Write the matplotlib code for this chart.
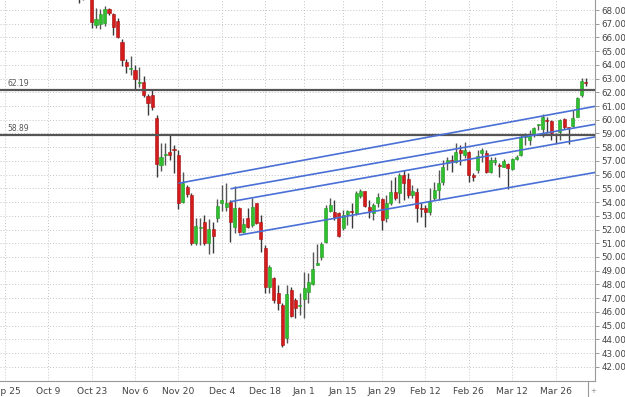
import pandas as pd
import matplotlib
matplotlib.use('Agg')
import matplotlib.pyplot as plt
from matplotlib.lines import Line2D

# trading calendar (futures style, a few holidays removed)
holidays = ['2018-12-25', '2019-01-01', '2019-01-21']
first_day = '2018-10-18'

opens = [69.6, 68.9, 69.2, 69.2, 66.91, 66.98, 67.07, 68.07, 67.71, 67.22,
         65.69, 64.23, 63.72, 63.63, 62.66, 62.77, 61.75, 61.8, 60.1, 56.7,
         57.45, 57.67, 57.82, 57.43, 53.99, 55.12, 54.52, 51.04, 52.1, 52.57,
         51.04, 52.02, 52.82, 53.91, 53.66, 54.03, 52.2, 53.55, 51.84, 52.82,
         52.33, 53.91, 52.57, 50.63, 47.79, 48.49, 47.35, 46.5, 44.07, 47.59,
         46.86, 46.45, 46.91, 47.47, 48.03, 49.41, 49.98, 51.11, 53.37, 53.3,
         53.18, 52.09, 53.13, 53.3, 53.18, 54.47, 54.81, 53.66, 53.23, 53.91,
         54.22, 52.82, 53.91, 54.76, 54.64, 55.97, 55.66, 54.55, 54.76, 53.6,
         53.55, 53.3, 54.28, 54.88, 55.49, 56.83, 57.07, 56.94, 57.8, 57.43,
         57.67, 55.97, 56.34, 57.56, 57.6, 56.21, 56.94, 56.66, 56.58, 56.78,
         56.39, 57.12, 57.43, 58.72, 58.52, 58.89, 59.6, 59.3, 60.0, 59.93,
         58.93, 59.13, 60.03, 59.4, 59.55, 60.22, 61.8, 62.7]
highs = [70.0, 69.5, 69.8, 69.4, 68.12, 68.1, 68.3, 68.12, 67.8, 67.4,
         65.86, 64.41, 64.65, 63.99, 63.87, 63.19, 61.88, 62.22, 60.35, 58.28,
         58.28, 58.96, 58.16, 57.8, 56.21, 55.24, 54.64, 52.82, 52.82, 53.06,
         52.74, 52.57, 54.2, 55.28, 55.37, 54.15, 55.17, 53.66, 52.82, 53.55,
         54.28, 53.96, 53.06, 50.87, 49.41, 48.56, 47.96, 46.62, 47.96, 47.83,
         46.99, 47.35, 48.93, 48.85, 50.38, 50.94, 51.11, 53.79, 54.3, 54.15,
         53.3, 53.42, 53.42, 53.91, 54.83, 54.93, 54.83, 54.15, 53.91, 54.64,
         54.3, 54.52, 55.61, 55.85, 56.14, 56.34, 56.1, 55.24, 55.03, 53.91,
         53.79, 55.0, 55.49, 56.34, 57.07, 57.29, 57.43, 58.33, 58.16, 58.4,
         57.75, 56.1, 57.8, 57.92, 57.8, 57.31, 57.31, 56.83, 57.12, 56.85,
         57.19, 57.43, 58.89, 59.01, 59.25, 59.45, 59.69, 60.42, 60.22, 59.98,
         59.01, 60.05, 60.1, 59.49, 60.71, 61.68, 63.04, 63.04]
lows = [68.5, 68.75, 68.8, 66.7, 66.67, 66.6, 66.8, 67.64, 66.18, 65.93,
        63.94, 63.39, 63.26, 62.17, 62.37, 61.68, 60.35, 60.71, 55.85, 56.29,
        56.7, 57.07, 56.14, 53.47, 53.91, 54.39, 50.87, 50.87, 50.87, 50.87,
        50.19, 50.31, 52.57, 53.37, 53.37, 51.11, 51.72, 51.72, 51.72, 52.09,
        52.16, 52.4, 50.38, 47.35, 47.4, 46.62, 46.13, 43.46, 43.71, 45.65,
        45.53, 45.77, 45.53, 46.62, 47.96, 49.41, 49.78, 51.0, 53.28, 52.69,
        51.43, 51.97, 52.33, 52.09, 53.06, 54.28, 53.66, 52.82, 52.69, 53.66,
        51.97, 52.57, 53.79, 54.15, 53.96, 54.15, 54.28, 54.28, 52.57, 52.93,
        52.16, 53.06, 54.15, 54.15, 55.24, 56.34, 56.2, 56.83, 56.7, 57.19,
        55.49, 55.56, 56.1, 56.94, 56.1, 56.1, 56.7, 55.85, 56.53, 54.93,
        56.34, 57.1, 57.36, 58.16, 58.16, 58.77, 59.25, 58.77, 59.01, 58.52,
        58.33, 58.52, 59.3, 58.23, 59.45, 60.18, 61.68, 62.46]
closes = [68.9, 69.2, 69.3, 67.15, 67.32, 67.71, 68.05, 67.76, 66.78, 66.0,
          64.36, 63.92, 63.78, 62.97, 62.72, 61.8, 61.2, 60.9, 56.78, 57.31,
          57.5, 57.43, 57.77, 53.96, 55.37, 54.57, 51.04, 52.26, 52.2, 51.04,
          52.04, 51.53, 53.71, 54.15, 53.91, 52.57, 53.55, 51.84, 52.4, 52.2,
          53.62, 52.45, 51.28, 47.83, 49.25, 46.86, 46.62, 43.58, 47.3, 45.7,
          46.3, 46.52, 47.72, 48.2, 49.1, 49.58, 50.94, 53.57, 53.79, 52.9,
          51.53, 53.06, 53.35, 53.25, 54.68, 54.81, 53.71, 53.37, 53.79, 54.35,
          52.69, 53.91, 54.76, 54.28, 56.0, 55.37, 54.52, 54.83, 53.6, 53.53,
          53.3, 54.03, 54.88, 55.41, 56.58, 57.07, 57.02, 57.67, 57.56, 57.8,
          55.97, 55.85, 57.36, 57.8, 56.21, 57.07, 57.07, 56.63, 57.02, 56.46,
          57.12, 57.26, 58.72, 58.96, 58.89, 59.38, 59.62, 60.22, 59.93, 59.06,
          58.89, 59.98, 59.49, 59.38, 60.15, 61.56, 62.83, 62.65]

levels = [62.19, 58.89]

# channel lines: start date, price at start, price at right edge of chart
line_starts = ['2018-11-20', '2018-12-06', '2018-12-06', '2018-12-10']
line_start_prices = [55.37, 54.97, 54.03, 51.59]
line_end_prices = [60.98, 59.67, 58.75, 56.16]

tick_dates = pd.date_range('2018-09-25', '2019-03-26', freq='14D')

cal = pd.bdate_range('2018-09-24', '2019-05-31', freq='C', holidays=holidays)
start = cal.get_loc(pd.Timestamp(first_day))
xs = list(range(start, start + len(opens)))
x_left, x_right = -0.15, 137.1

fig = plt.figure(figsize=(6.25, 3.97), dpi=100)
ax = fig.add_axes([0, 16 / 397, 595 / 625, 381 / 397])

up_col, up_edge = '#2fbf2f', '#1f9a1f'
dn_col, dn_edge = '#d41c1c', '#a81010'
for x, o, h, l, c in zip(xs, opens, highs, lows, closes):
    up = c >= o
    ax.vlines(x, l, h, color='#3a3a3a' if not up else '#555555', lw=1.0, zorder=2)
    b = min(o, c)
    hgt = max(abs(c - o), 0.07)
    ax.bar(x, hgt, bottom=b, width=0.72, color=up_col if up else dn_col,
           edgecolor=up_edge if up else dn_edge, linewidth=0.4, zorder=3)

for lv in levels:
    ax.axhline(lv, color='#555555', lw=1.6, zorder=4)
    ax.text(0.012, lv + 0.12, '%.2f' % lv, transform=ax.get_yaxis_transform(),
            fontsize=5.5, color='#555555', va='bottom')

for d, p0, p1 in zip(line_starts, line_start_prices, line_end_prices):
    x0 = cal.get_loc(pd.Timestamp(d))
    ax.plot([x0, x_right], [p0, p1], color='#4a6fd6', lw=1.2, zorder=5,
            solid_capstyle='butt')

ax.set_xlim(x_left, x_right)
ax.set_ylim(40.96, 68.73)

ax.yaxis.tick_right()
ax.set_yticks(range(42, 69))
ax.set_yticklabels(['%.2f' % v for v in range(42, 69)])
tick_pos = cal.searchsorted(tick_dates)
ax.set_xticks(tick_pos)
ax.set_xticklabels([d.strftime('%b ') + str(d.day) for d in tick_dates])
ax.tick_params(axis='y', length=3, width=0.6, color='#888888', pad=1.5,
               labelsize=6.3, labelcolor='#444444')
ax.tick_params(axis='x', length=0, pad=4, labelsize=6.6, labelcolor='#444444')

ax.grid(True, color='#c4c4c4', lw=0.7, linestyle=(0, (1, 2)))
ax.set_axisbelow(True)
for s in ['top', 'left']:
    ax.spines[s].set_visible(False)
for s in ['right', 'bottom']:
    ax.spines[s].set_color('#999999')
    ax.spines[s].set_linewidth(0.8)

fig.add_artist(Line2D([588 / 625, 588 / 625], [0, 16 / 397], color='#999999', lw=0.8))
fig.text(593 / 625, 6 / 397, '+', fontsize=5, color='#888888', ha='center', va='center')

fig.savefig('out.png', dpi=100)
